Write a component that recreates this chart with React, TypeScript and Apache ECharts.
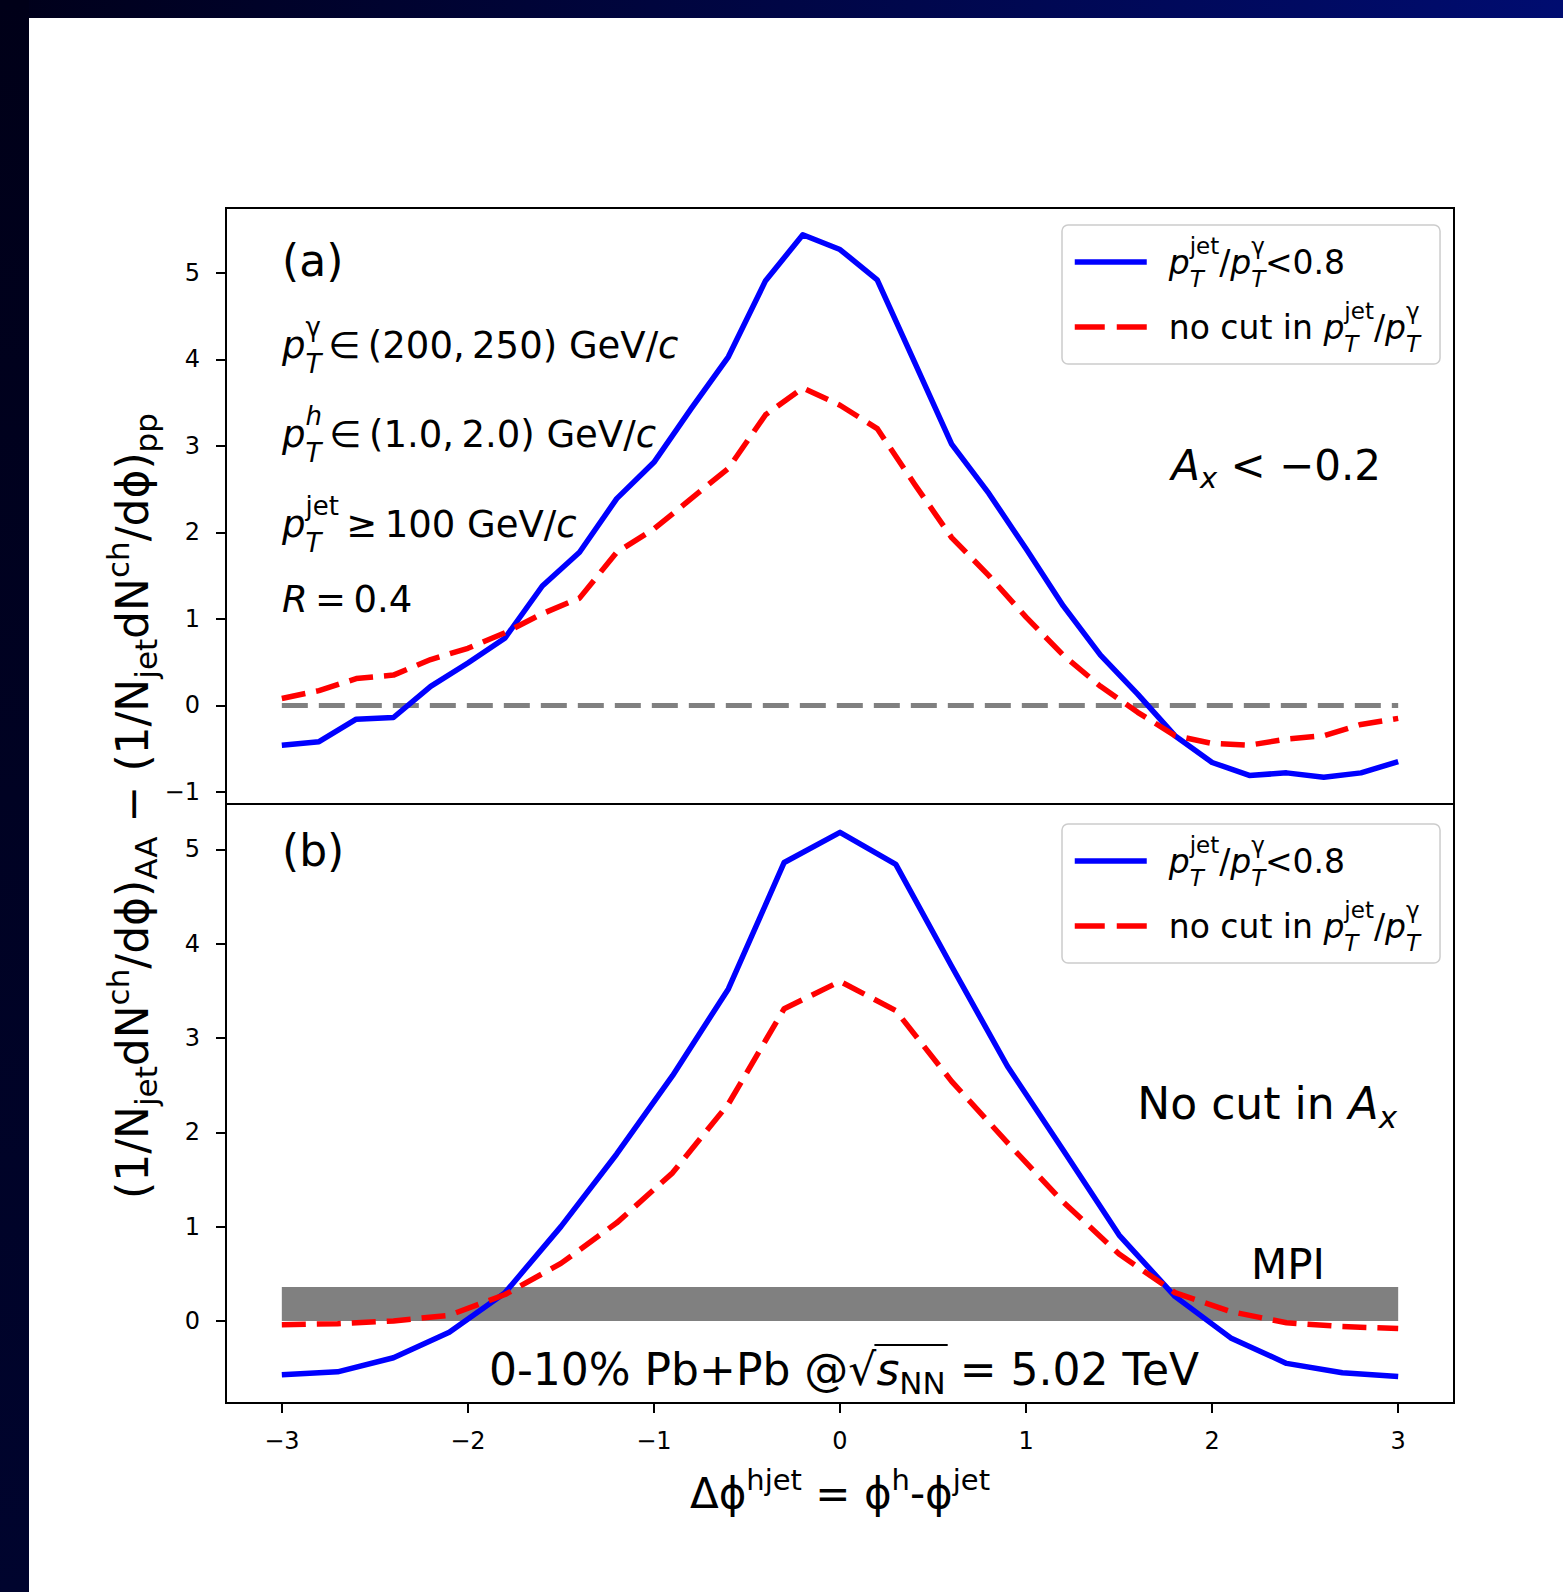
import React, { useEffect, useRef } from 'react';
import * as echarts from 'echarts';

const FONT = 'DejaVu Sans';

// Δϕ sampling and curves of panel (a), A_x < −0.2
const phiA = [-3, -2.8, -2.6, -2.4, -2.2, -2, -1.8, -1.6, -1.4, -1.2, -1, -0.8, -0.6, -0.4, -0.2, 0, 0.2, 0.4, 0.6, 0.8, 1, 1.2, 1.4, 1.6, 1.8, 2, 2.2, 2.4, 2.6, 2.8, 3];
const cutA = [-0.46, -0.42, -0.16, -0.14, 0.22, 0.49, 0.78, 1.38, 1.77, 2.39, 2.81, 3.43, 4.03, 4.91, 5.44, 5.27, 4.92, 3.97, 3.02, 2.45, 1.81, 1.15, 0.58, 0.13, -0.35, -0.66, -0.81, -0.78, -0.83, -0.78, -0.65];
const noCutA = [0.08, 0.17, 0.31, 0.35, 0.53, 0.66, 0.84, 1.06, 1.24, 1.77, 2.04, 2.39, 2.74, 3.36, 3.67, 3.47, 3.2, 2.56, 1.94, 1.5, 1.02, 0.58, 0.22, -0.08, -0.35, -0.44, -0.46, -0.39, -0.35, -0.22, -0.15];

// Δϕ sampling and curves of panel (b), no cut in A_x
const phiB = [-3, -2.7, -2.4, -2.1, -1.8, -1.5, -1.2, -0.9, -0.6, -0.3, 0, 0.3, 0.6, 0.9, 1.2, 1.5, 1.8, 2.1, 2.4, 2.7, 3];
const cutB = [-0.57, -0.54, -0.39, -0.12, 0.3, 1.0, 1.77, 2.6, 3.52, 4.86, 5.18, 4.84, 3.76, 2.7, 1.81, 0.91, 0.26, -0.18, -0.45, -0.55, -0.59];
const noCutB = [-0.04, -0.03, 0, 0.06, 0.28, 0.61, 1.04, 1.57, 2.3, 3.31, 3.6, 3.29, 2.54, 1.89, 1.26, 0.71, 0.3, 0.1, -0.02, -0.06, -0.08];

// reference line at zero (panel a) and MPI band (panel b)
const zeroLineX = [-3, 3];
const mpiX = [-3, 3];
const mpiBand = [0, 0.36];

// ticks
const xTicks = [-3, -2, -1, 0, 1, 2, 3];
const yTicksA = [-1, 0, 1, 2, 3, 4, 5];
const yTicksB = [0, 1, 2, 3, 4, 5];

const NAME_CUT = 'pT jet / pT gamma < 0.8';
const NAME_NOCUT = 'no cut in pT jet / pT gamma';

const BLUE = '#0000ff';
const RED = '#ff0000';
const GRAY = '#808080';

// rich-text styles emulating math typesetting (sub/superscripts)
function mathRich(F: number) {
  const L = Math.round(F * 1.25);
  const s = Math.round(F * 0.7);
  const hu = Math.round(L - 0.64 * F); // lone superscript
  const hb = Math.round(L - 0.62 * F); // lone subscript
  const hu2 = Math.round(L - 1.0 * F); // superscript stacked over a subscript
  const hb2 = Math.round(L - 1.0 * F); // subscript stacked under a superscript
  const base: any = { fontFamily: FONT, fontSize: F, lineHeight: L, height: L, color: '#000', fill: '#000', verticalAlign: 'middle' };
  const script: any = { fontFamily: FONT, fontSize: s, color: '#000', fill: '#000' };
  const sup = { ...script, lineHeight: hu, height: hu, verticalAlign: 'top' };
  const sub = { ...script, lineHeight: hb, height: hb, verticalAlign: 'bottom' };
  const sup2 = { ...script, lineHeight: hu2, height: hu2, verticalAlign: 'top' };
  return {
    t: base,
    i: { ...base, fontStyle: 'italic' },
    u: sup,
    b: sub,
    bi: { ...sub, fontStyle: 'italic' },
    u2: sup2,
    u2i: { ...sup2, fontStyle: 'italic' },
    bi2: { ...script, fontStyle: 'italic', lineHeight: hb2, height: hb2, verticalAlign: 'bottom', width: 0 },
    gap: { ...base, width: Math.round(F * 0.5) },
  };
}

function measure(text: string, size: number, italic = false) {
  const ctx = document.createElement('canvas').getContext('2d') as CanvasRenderingContext2D;
  ctx.font = `${italic ? 'italic ' : ''}${size}px "${FONT}"`;
  return ctx.measureText(text).width;
}

const fmtTick = (v: number) => (v < 0 ? '\u2212' + Math.abs(v) : String(v));

const legendText = (name: string) =>
  name === NAME_CUT
    ? '{gap| }{i|p}{bi2|T}{u2|jet}{t|/}{i|p}{bi2|T}{u2|γ}{t|<0.8}'
    : '{gap| }{t|no cut in }{i|p}{bi2|T}{u2|jet}{t|/}{i|p}{bi2|T}{u2|γ}';

function pairs(xs: number[], ys: number[]) {
  return xs.map((x, i) => [x, ys[i]]);
}

function buildOption() {
  const big = 42;
  const ann = 37;

  // collision-system label with a radical overline
  const sysF = 44;
  const pre = '0-10% Pb+Pb @√';
  const post = ' = 5.02 TeV';
  const wPre = measure(pre, sysF);
  const wS = measure('s', sysF, true);
  const wNN = measure('NN', Math.round(sysF * 0.7));
  const wPost = measure(post, sysF);
  const sysCx = 844;
  const sysCy = 1369;
  const sysLeft = sysCx - (wPre + wS + wNN + wPost) / 2;

  const legendBase: any = {
    orient: 'vertical',
    left: 1062,
    itemWidth: 72,
    itemHeight: 14,
    itemGap: 9,
    padding: [9, 20, 9, 10],
    backgroundColor: 'rgba(255,255,255,0.8)',
    borderColor: '#cccccc',
    borderWidth: 1.5,
    borderRadius: 6,
    selectedMode: false,
    itemStyle: { opacity: 0 },
    lineStyle: { width: 5.5 },
    textStyle: { fontSize: 33, fontFamily: FONT, color: '#000', rich: mathRich(33) },
    formatter: legendText,
    data: [
      { name: NAME_CUT, lineStyle: { type: 'solid', width: 5.5 } },
      { name: NAME_NOCUT, lineStyle: { type: [30, 12], width: 5.5 } },
    ],
  };

  const yLabel = '{t|(1/N}{b|jet}{t|dN}{u|ch}{t|/dϕ)}{b|AA}{t| − (1/N}{b|jet}{t|dN}{u|ch}{t|/dϕ)}{b|pp}';

  const yAxisBase = (gridIndex: number, min: number, max: number, ticks: number[]) => ({
    type: 'value',
    gridIndex,
    min,
    max,
    axisLine: { show: false, onZero: false },
    axisTick: { show: true, length: 10, lineStyle: { color: '#000', width: 2 }, customValues: ticks },
    axisLabel: { customValues: ticks, formatter: fmtTick, fontSize: 24, fontFamily: FONT, color: '#000', margin: 26 },
    splitLine: { show: false },
  });

  const solid = { color: BLUE, width: 5.5, join: 'round' };
  const dashed = { color: RED, width: 5.5, type: [24, 11], join: 'round', cap: 'butt' };

  return {
    animation: false,
    backgroundColor: '#ffffff',
    textStyle: { fontFamily: FONT },
    grid: [
      { left: 226, top: 208, width: 1228, height: 596, show: true, borderColor: '#000', borderWidth: 2 },
      { left: 226, top: 804, width: 1228, height: 599, show: true, borderColor: '#000', borderWidth: 2 },
    ],
    xAxis: [
      { type: 'value', gridIndex: 0, min: -3.3, max: 3.3, show: false, splitLine: { show: false } },
      {
        type: 'value',
        gridIndex: 1,
        min: -3.3,
        max: 3.3,
        axisLine: { show: false, onZero: false },
        axisTick: { show: true, length: 10, lineStyle: { color: '#000', width: 2 }, customValues: xTicks },
        axisLabel: { customValues: xTicks, formatter: fmtTick, fontSize: 24, fontFamily: FONT, color: '#000', margin: 26 },
        splitLine: { show: false },
        name: '{t|Δϕ}{u|hjet}{t| = ϕ}{u|h}{t|-ϕ}{u|jet}',
        nameLocation: 'middle',
        nameGap: 64,
        nameTextStyle: { fontSize: big, fontFamily: FONT, color: '#000', rich: mathRich(big) },
      },
    ],
    yAxis: [yAxisBase(0, -1.14, 5.75, yTicksA), yAxisBase(1, -0.87, 5.48, yTicksB)],
    legend: [
      { ...legendBase, top: 225 },
      { ...legendBase, top: 824 },
    ],
    series: [
      {
        type: 'line', name: 'zero', xAxisIndex: 0, yAxisIndex: 0, z: 1, silent: true,
        symbol: 'none', data: zeroLineX.map((x) => [x, 0]),
        lineStyle: { color: GRAY, width: 5, type: [26, 11], cap: 'butt' },
      },
      {
        type: 'line', name: NAME_CUT, xAxisIndex: 0, yAxisIndex: 0, z: 3, silent: true,
        symbol: 'none', color: BLUE, data: pairs(phiA, cutA), lineStyle: solid,
      },
      {
        type: 'line', name: NAME_NOCUT, xAxisIndex: 0, yAxisIndex: 0, z: 4, silent: true,
        symbol: 'none', color: RED, data: pairs(phiA, noCutA), lineStyle: dashed,
      },
      {
        type: 'custom', name: 'MPI', xAxisIndex: 1, yAxisIndex: 1, z: 1, silent: true,
        data: [[mpiX[0], mpiX[1], mpiBand[0], mpiBand[1]]],
        encode: { x: [0, 1], y: [2, 3] },
        renderItem: (_p: any, api: any) => {
          const tl = api.coord([api.value(0), api.value(3)]);
          const br = api.coord([api.value(1), api.value(2)]);
          return {
            type: 'rect',
            shape: { x: tl[0], y: tl[1], width: br[0] - tl[0], height: br[1] - tl[1] },
            style: { fill: GRAY },
          };
        },
      },
      {
        type: 'line', name: NAME_CUT, xAxisIndex: 1, yAxisIndex: 1, z: 3, silent: true,
        symbol: 'none', color: BLUE, data: pairs(phiB, cutB), lineStyle: solid,
      },
      {
        type: 'line', name: NAME_NOCUT, xAxisIndex: 1, yAxisIndex: 1, z: 4, silent: true,
        symbol: 'none', color: RED, data: pairs(phiB, noCutB), lineStyle: dashed,
      },
    ],
    graphic: [
      {
        type: 'rect', silent: true, z: 0,
        shape: { x: 0, y: 0, width: 1563, height: 18 },
        style: { fill: new echarts.graphic.LinearGradient(0, 0, 1, 0, [{ offset: 0, color: '#00001a' }, { offset: 1, color: '#000c70' }]) },
      },
      {
        type: 'rect', silent: true, z: 0,
        shape: { x: 0, y: 0, width: 29, height: 1592 },
        style: { fill: new echarts.graphic.LinearGradient(0, 0, 0, 1, [{ offset: 0, color: '#000018' }, { offset: 1, color: '#00042e' }]) },
      },
      {
        type: 'text', x: 132, y: 806, rotation: Math.PI / 2, silent: true,
        style: { text: yLabel, rich: mathRich(44), align: 'center', verticalAlign: 'middle', fontSize: 44, fontFamily: FONT },
      },
      { type: 'text', x: 282, y: 260, silent: true, style: { text: '(a)', fontSize: 44, fontFamily: FONT, fill: '#000', verticalAlign: 'middle' } },
      {
        type: 'text', x: 282, y: 345, silent: true,
        style: { text: '{i|p}{bi2|T}{u2|γ}{t|\u2009∈\u2009(200,\u2009250) GeV/}{i|c}', rich: mathRich(ann), verticalAlign: 'middle', fontSize: ann, fontFamily: FONT },
      },
      {
        type: 'text', x: 282, y: 434, silent: true,
        style: { text: '{i|p}{bi2|T}{u2i|h}{t|\u2009∈\u2009(1.0,\u20092.0) GeV/}{i|c}', rich: mathRich(ann), verticalAlign: 'middle', fontSize: ann, fontFamily: FONT },
      },
      {
        type: 'text', x: 282, y: 524, silent: true,
        style: { text: '{i|p}{bi2|T}{u2|jet}{t|\u2009≥\u2009100 GeV/}{i|c}', rich: mathRich(ann), verticalAlign: 'middle', fontSize: ann, fontFamily: FONT },
      },
      {
        type: 'text', x: 282, y: 599, silent: true,
        style: { text: '{i|R}{t|\u2009=\u20090.4}', rich: mathRich(ann), verticalAlign: 'middle', fontSize: ann, fontFamily: FONT },
      },
      {
        type: 'text', x: 1381, y: 465, silent: true,
        style: { text: '{i|A}{bi|x}{t| < −0.2}', rich: mathRich(big), align: 'right', verticalAlign: 'middle', fontSize: big, fontFamily: FONT },
      },
      { type: 'text', x: 282, y: 850, silent: true, style: { text: '(b)', fontSize: 44, fontFamily: FONT, fill: '#000', verticalAlign: 'middle' } },
      {
        type: 'text', x: 1397, y: 1103, silent: true,
        style: { text: '{t|No cut in }{i|A}{bi|x}', rich: mathRich(44), align: 'right', verticalAlign: 'middle', fontSize: 44, fontFamily: FONT },
      },
      { type: 'text', x: 1288, y: 1264, silent: true, style: { text: 'MPI', fontSize: big, fontFamily: FONT, fill: '#000', align: 'center', verticalAlign: 'middle' } },
      {
        type: 'text', x: sysLeft, y: sysCy, silent: true,
        style: { text: `{t|${pre}}{i|s}{b|NN}{t|${post}}`, rich: mathRich(sysF), align: 'left', verticalAlign: 'middle', fontSize: sysF, fontFamily: FONT },
      },
      {
        type: 'line', silent: true,
        shape: { x1: sysLeft + wPre - 2, y1: sysCy - 24, x2: sysLeft + wPre + wS + wNN + 2, y2: sysCy - 24 },
        style: { stroke: '#000', lineWidth: 2 },
      },
    ],
  };
}

export default function App() {
  const ref = useRef<HTMLDivElement>(null);
  useEffect(() => {
    document.body.style.margin = '0';
    const el = ref.current as HTMLDivElement;
    const chart = echarts.init(el, null, { renderer: 'svg' });
    chart.setOption(buildOption() as any);
    return () => chart.dispose();
  }, []);
  return <div ref={ref} style={{ width: 1563, height: 1592, background: '#fff' }} />;
}
